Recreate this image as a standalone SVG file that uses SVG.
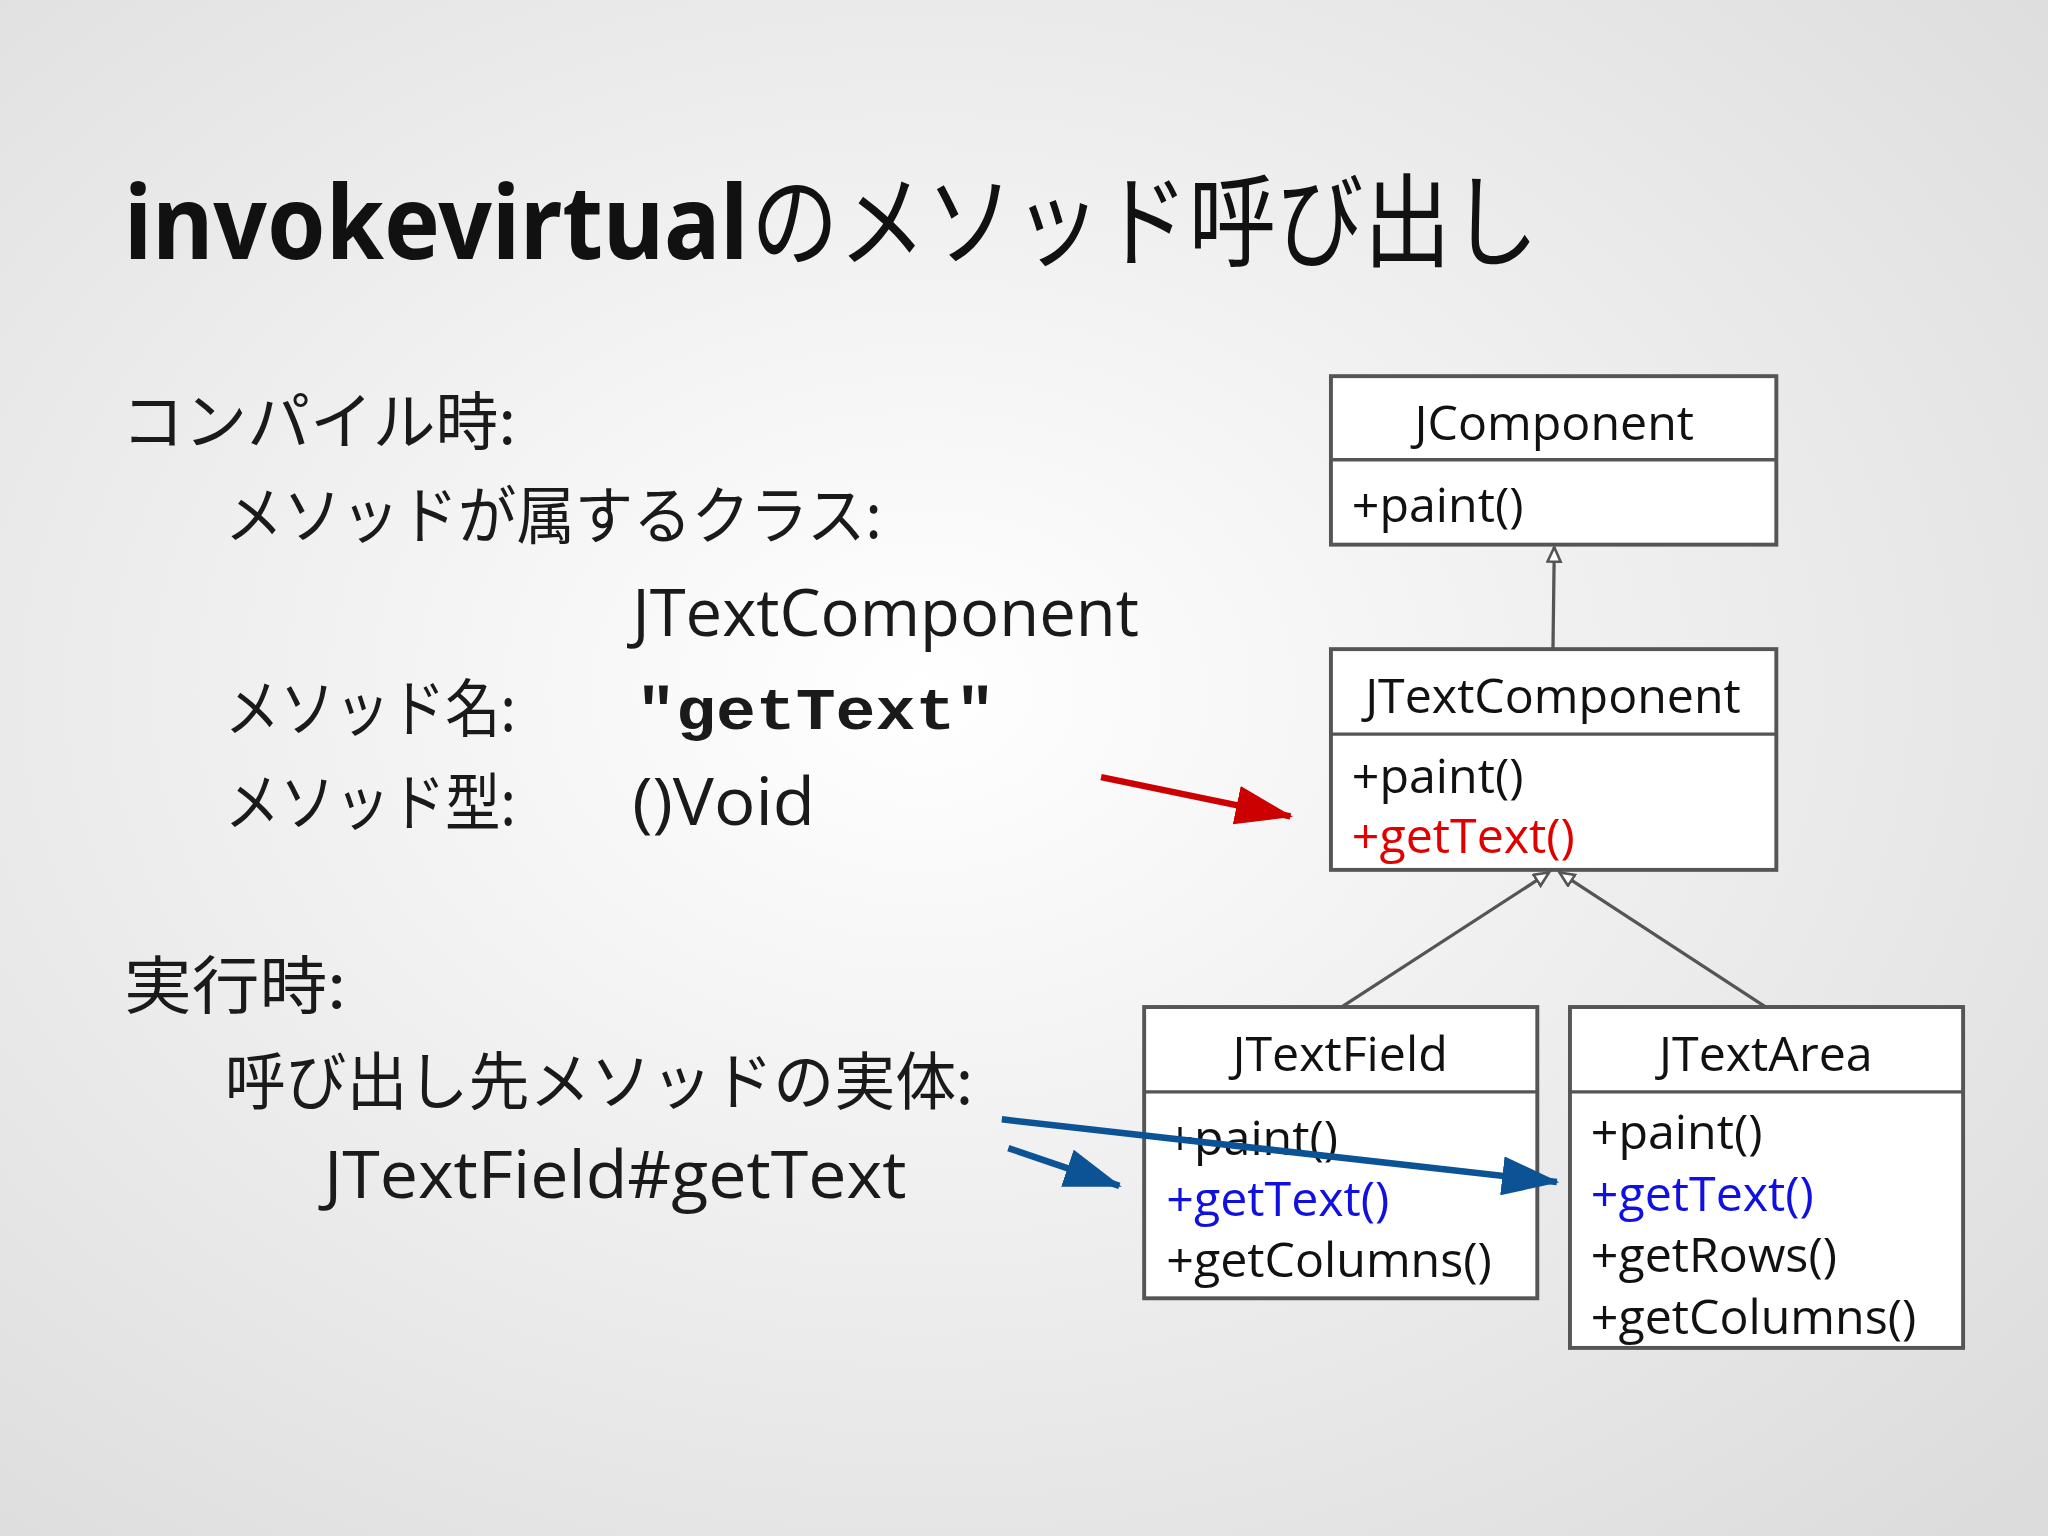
<svg xmlns="http://www.w3.org/2000/svg" width="2048" height="1536" viewBox="0 0 2048 1536">
<defs>
<radialGradient id="bg" cx="0.45" cy="0.45" r="0.75">
<stop offset="0" stop-color="#ffffff"/><stop offset="1" stop-color="#dcdcdc"/>
</radialGradient>
<marker id="hollow" markerWidth="14" markerHeight="14" refX="12" refY="6" orient="auto" markerUnits="userSpaceOnUse">
<path d="M1,1 L12,6 L1,11 Z" fill="#fff" stroke="#555" stroke-width="2"/>
</marker>
<marker id="red" markerWidth="44" markerHeight="30" refX="42" refY="15" orient="auto" markerUnits="userSpaceOnUse">
<path d="M0,0 L44,15 L0,30 Z" fill="#cc0000"/>
</marker>
<marker id="blue" markerWidth="44" markerHeight="30" refX="42" refY="15" orient="auto" markerUnits="userSpaceOnUse">
<path d="M0,0 L44,15 L0,30 Z" fill="#0b5394"/>
</marker>
</defs>
<style>
.jp{font-family:"Noto Sans CJK JP","Noto Sans",sans-serif;font-size:48px;fill:#1a1a1a}
.lt{font-family:"Open Sans","Noto Sans",sans-serif;font-size:50px;fill:#1a1a1a}
.box{fill:#fff;stroke:#555;stroke-width:3}
.t{font-family:"Open Sans","Noto Sans",sans-serif;font-size:37px;fill:#111}
.ct{text-anchor:middle}
.conn{stroke:#555;stroke-width:2.5;fill:none}
</style>
<rect width="2048" height="1536" fill="url(#bg)"/>
<g transform="scale(1.30612)">
<text x="95" y="198" font-family="'Noto Sans','Noto Sans CJK JP',sans-serif" font-weight="bold" font-size="78" fill="#111"><tspan textLength="478" lengthAdjust="spacingAndGlyphs">invokevirtual</tspan><tspan x="575" font-family="'Noto Sans CJK JP',sans-serif" font-weight="normal" textLength="603" lengthAdjust="spacingAndGlyphs">のメソッド呼び出し</tspan></text>
<text class="jp" x="93" y="340" textLength="302" lengthAdjust="spacingAndGlyphs">コンパイル時:</text>
<text class="jp" x="172" y="412" textLength="503" lengthAdjust="spacingAndGlyphs">メソッドが属するクラス:</text>
<text class="lt" x="484" y="487" textLength="388" lengthAdjust="spacingAndGlyphs">JTextComponent</text>
<text class="jp" x="172" y="560" textLength="223" lengthAdjust="spacingAndGlyphs">メソッド名:</text>
<text x="487" y="558" font-family="'Liberation Mono',monospace" font-weight="bold" font-size="46" fill="#1a1a1a" textLength="275" lengthAdjust="spacingAndGlyphs">"getText"</text>
<text class="jp" x="172" y="632" textLength="223" lengthAdjust="spacingAndGlyphs">メソッド型:</text>
<text class="lt" x="484" y="632" textLength="140" lengthAdjust="spacingAndGlyphs">()Void</text>
<text class="jp" x="95" y="772" textLength="170" lengthAdjust="spacingAndGlyphs">実行時:</text>
<text class="jp" x="172" y="845" textLength="573" lengthAdjust="spacingAndGlyphs">呼び出し先メソッドの実体:</text>
<text class="lt" x="248" y="917" textLength="446" lengthAdjust="spacingAndGlyphs">JTextField#getText</text>

<g id="JComponent">
<rect class="box" x="1019" y="288" width="341" height="129"/>
<line class="conn" x1="1019" y1="352" x2="1360" y2="352" stroke-width="3"/>
<text class="t ct" x="1190" y="337">JComponent</text>
<text class="t" x="1035" y="400">+paint()</text>
</g>
<g id="JTextComponent">
<rect class="box" x="1019" y="497" width="341" height="169"/>
<line class="conn" x1="1019" y1="562" x2="1360" y2="562" stroke-width="3"/>
<text class="t ct" x="1189" y="546">JTextComponent</text>
<text class="t" x="1035" y="607">+paint()</text>
<text class="t" x="1035" y="653" style="fill:#e00000">+getText()</text>
</g>
<g id="JTextField">
<rect class="box" x="876" y="771" width="301" height="223"/>
<line class="conn" x1="876" y1="836" x2="1177" y2="836" stroke-width="3"/>
<text class="t ct" x="1026" y="820">JTextField</text>
<text class="t" x="893" y="884">+paint()</text>
<text class="t" x="893" y="931" style="fill:#1010e0">+getText()</text>
<text class="t" x="893" y="978">+getColumns()</text>
</g>
<g id="JTextArea">
<rect class="box" x="1202" y="771" width="301" height="261"/>
<line class="conn" x1="1202" y1="836" x2="1503" y2="836" stroke-width="3"/>
<text class="t ct" x="1352" y="820">JTextArea</text>
<text class="t" x="1218" y="880">+paint()</text>
<text class="t" x="1218" y="927" style="fill:#1010e0">+getText()</text>
<text class="t" x="1218" y="974">+getRows()</text>
<text class="t" x="1218" y="1021">+getColumns()</text>
</g>
<g id="connectors">
<line class="conn" x1="1189" y1="497" x2="1190" y2="419" marker-end="url(#hollow)"/>
<line class="conn" x1="1027" y1="771" x2="1186" y2="668" marker-end="url(#hollow)"/>
<line class="conn" x1="1352" y1="771" x2="1194" y2="668" marker-end="url(#hollow)"/>
<line x1="843" y1="595" x2="988" y2="625" stroke="#cc0000" stroke-width="5" marker-end="url(#red)"/>
<line x1="772" y1="879" x2="857" y2="908" stroke="#0b5394" stroke-width="5" marker-end="url(#blue)"/>
<line x1="767" y1="857" x2="1192" y2="905" stroke="#0b5394" stroke-width="5" marker-end="url(#blue)"/>
</g>
</g>
</svg>
